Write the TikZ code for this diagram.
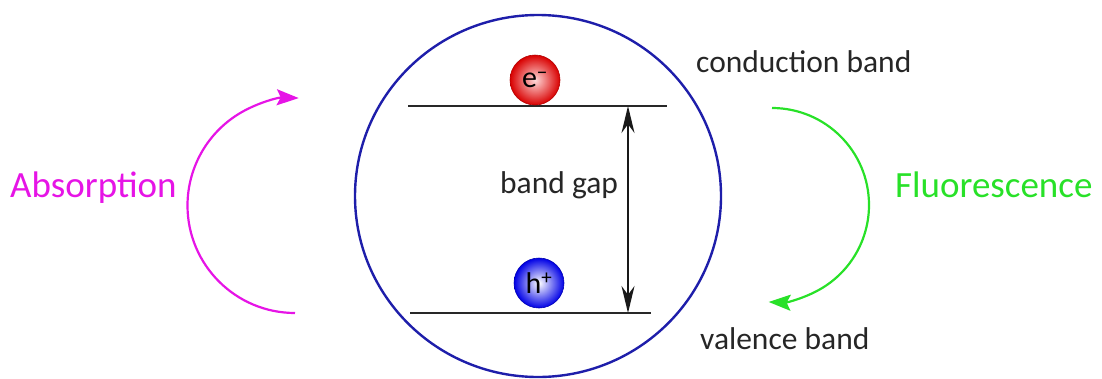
\documentclass[tikz,border=0pt]{standalone}
\usepackage{fontspec}
\setmainfont{Carlito}
\usetikzlibrary{arrows.meta,shapes.geometric}
\definecolor{circblue}{RGB}{30,30,170}
\definecolor{absmag}{RGB}{230,20,230}
\definecolor{flgreen}{RGB}{40,225,40}
\definecolor{bandgray}{RGB}{40,40,40}
\tikzset{
  lbl/.style={font=\fontsize{31.5}{36}\selectfont, text=black!85, inner sep=0pt, anchor=base west},
  biglbl/.style={font=\fontsize{37}{42}\selectfont, inner sep=0pt, anchor=base west},
  band/.style={draw=bandgray, line width=2.2pt},
  carrier/.style={circle, minimum size=50pt, inner sep=0pt, font=\fontsize{30}{34}\selectfont},
  arcarrow/.style={line width=2.2pt, -{Stealth[length=22pt,width=16pt,inset=4pt]}}
}
\begin{document}
\begin{tikzpicture}[x=1pt,y=-1pt]
\useasboundingbox (0,0) rectangle (1102,378);
% outer circle
\node[draw=circblue, line width=2.4pt, ellipse, minimum width=366pt, minimum height=362pt, inner sep=0pt] (dot) at (538,196) {};
% bands
\coordinate (cbL) at (408,106);
\coordinate (cbR) at (667,106);
\coordinate (vbL) at (410,313);
\coordinate (vbR) at (651,313);
\draw[band] (cbL) -- (cbR);
\draw[band] (vbL) -- (vbR);
% carriers
\node[carrier, shade, inner color=red!15, outer color=red!85!black, draw=red!70!black, line width=0.6pt] (e) at (535,80) {e\textsuperscript{\raisebox{-1pt}{−}}};
\node[carrier, shade, inner color=white, outer color=blue!90!black, draw=blue!70!black, line width=0.6pt] (h) at (539,283) {h\textsuperscript{+}};
% band gap arrow
\coordinate (gT) at (628,106);
\coordinate (gB) at (628,313);
\draw[line width=2pt, draw=black!90, {Stealth[length=27pt,width=13pt]}-{Stealth[length=27pt,width=13pt]}] (gT) -- (gB);
\node[lbl] (gap) at (500,193) {band gap};
% labels
\node[lbl] (cb) at (696,72) {conduction band};
\node[lbl] (vb) at (700,349) {valence band};
\node[biglbl, text=absmag] (abs) at (10,197) {Absorption};
\node[biglbl, text=flgreen] (fl) at (895,197) {Fluorescence};
% arcs
\coordinate (aS) at (295,313);
\draw[arcarrow, draw=absmag] (aS) arc[start angle=90, end angle=272, radius=107.5] coordinate (aEnd);
\coordinate (fS) at (772,108);
\draw[arcarrow, draw=flgreen] (fS) arc[start angle=-90, end angle=92, radius=97] coordinate (fEnd);
\end{tikzpicture}
\end{document}
